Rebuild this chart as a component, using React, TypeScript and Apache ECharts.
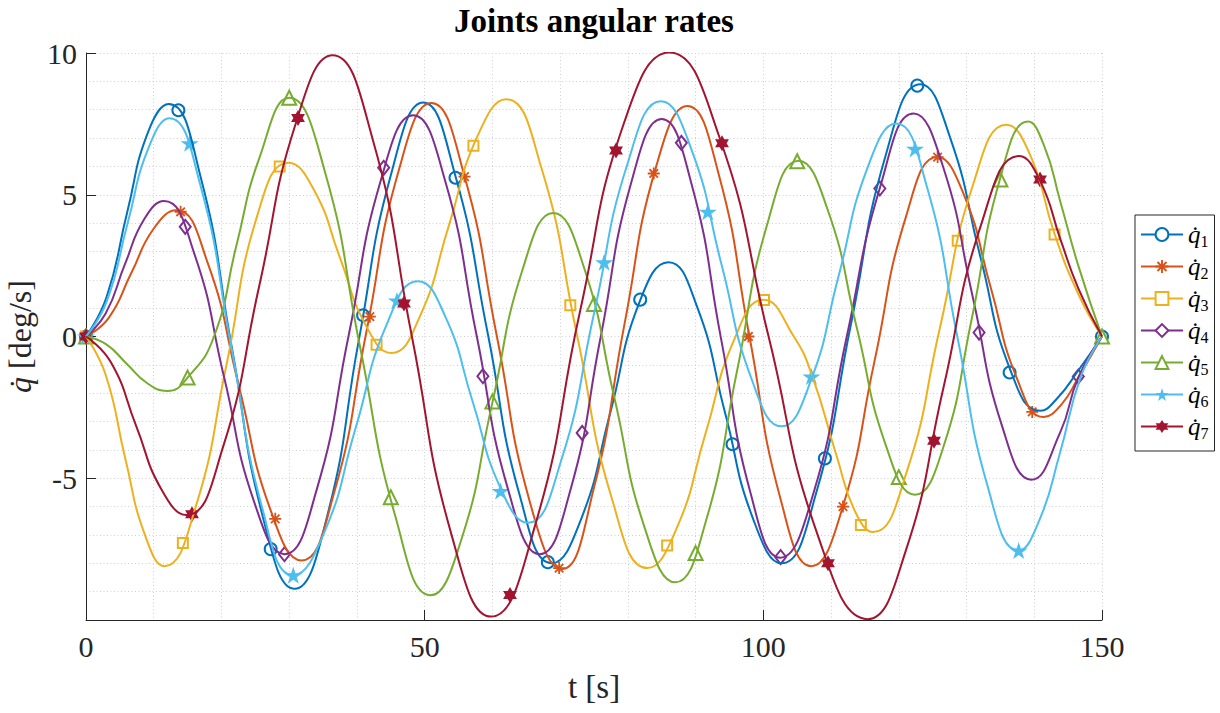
import React, { useEffect, useRef } from "react";
import * as echarts from "echarts";

// ---- data ----
const seriesNames = ["q1", "q2", "q3", "q4", "q5", "q6", "q7"];
const seriesColors = ["#0072BD", "#D95319", "#EDB120", "#7E2F8E", "#77AC30", "#4DBEEE", "#A2142F"];

// curve samples [t, qdot]
const q1Line = [[0, 0], [3.05, 1.4], [6.1, 4.4], [9.15, 7.2], [12.2, 8.2], [16.85, 5.7], [21.5, -0.35], [26.15, -6.4], [30.8, -8.9], [35.55, -6.39], [40.3, -0.1], [45.05, 5.73], [49.8, 8.25], [54.55, 5.65], [59.3, 0.125], [64.05, -5.62], [68.8, -8.0], [73.1, -6.44], [77.4, -2.69], [81.7, 1.2], [86.0, 2.62], [90.2, 1.06], [94.35, -2.69], [98.5, -6.44], [102.7, -8.0], [107.8, -5.52], [112.95, 0.45], [118.1, 6.42], [123.2, 8.9], [127.6, 7.0], [132.05, 2.8], [136.5, -1.2], [140.9, -2.62], [143.5, -2.15], [146.5, -1.2], [150, 0]];
const q2Line = [[0, 0], [3.33, 0.65], [6.65, 2.22], [9.98, 3.8], [13.3, 4.45], [17.9, 2.64], [22.55, -1.725], [27.2, -6.09], [31.8, -7.9], [36.6, -5.54], [41.4, 0.17], [46.2, 5.88], [51.0, 8.24], [55.83, 5.7], [60.65, 0.02], [65.48, -5.79], [70.3, -8.2], [74.93, -5.4], [79.55, 0.5], [84.18, 6.0], [88.8, 8.13], [93.38, 5.75], [97.95, 0.0], [102.53, -5.72], [107.1, -8.1], [111.75, -5.99], [116.4, -0.885], [121.05, 4.22], [125.7, 6.33], [129.63, 4.99], [133.55, 1.745], [137.48, -1.5], [141.4, -2.84], [144.0, -2.4], [146.5, -1.45], [150, 0]];
const q3Line = [[0, 0], [2.9, -1.35], [5.8, -4.3], [8.7, -7.0], [11.6, -8.1], [16.18, -6.02], [20.75, -0.985], [25.33, 4.3], [29.9, 6.13], [33.7, 5.15], [37.5, 2.775], [41.3, 0.4], [45.1, -0.58], [49.33, 0.73], [53.55, 3.895], [57.78, 7.06], [62.0, 8.37], [67.23, 5.95], [72.45, 0.1], [77.68, -5.75], [82.9, -8.17], [87.18, -6.78], [91.45, -3.435], [95.73, -0.09], [100.0, 1.3], [104.5, 0], [107.3, -1.45], [110.8, -4.2], [113.6, -6.2], [116.2, -6.9], [121.13, -4.8], [126.05, 0.285], [130.98, 5.37], [135.9, 7.47], [139.4, 6.4], [142.95, 3.65], [146.5, 1.5], [150, 0]];
const q4Line = [[0, 0], [2.88, 0.8], [5.75, 2.55], [8.63, 4.15], [11.5, 4.78], [15.95, 2.95], [20.4, -1.45], [24.85, -5.85], [29.3, -7.68], [34.05, -5.41], [38.8, 0.06], [43.55, 5.53], [48.3, 7.8], [52.98, 5.53], [57.65, 0.06], [62.33, -5.41], [67.0, -7.68], [71.5, -5.43], [76.0, 0], [80.5, 5.43], [85.0, 7.67], [89.38, 5.4], [93.75, -0.065], [98.13, -5.54], [102.5, -7.8], [107.43, -5.5], [112.35, 0.035], [117.28, 5.3], [122.2, 7.87], [126.55, 5.98], [130.9, 1.41], [135.25, -3.16], [139.6, -5.05], [143.8, -3.4], [146.5, -1.45], [150, 0]];
const q5Line = [[0, 0], [3, -0.28], [6, -0.96], [9, -1.64], [12, -1.92], [15, -1.45], [18.9, 0], [22.2, 3.2], [25.6, 6.3], [30, 8.42], [35.23, 5.85], [40.45, -0.355], [45.68, -6.35], [50.9, -9.13], [55.43, -7.15], [59.95, -2.385], [64.48, 2.38], [69.0, 4.36], [73.5, 2.45], [78.0, -2.155], [82.5, -6.76], [87.0, -8.67], [91.55, -6.49], [96.1, -1.235], [100.65, 4.02], [105.2, 6.2], [109.5, 4.47], [113.8, 0.31], [118.1, -3.85], [122.4, -5.58], [126.58, -3.9], [130.75, 0.6], [134.93, 5.55], [139.1, 7.58], [141.5, 6.7], [143.8, 4.8], [146.5, 2.5], [150, 0]];
const q6Line = [[0, 0], [3.08, 1.25], [6.15, 4.0], [9.23, 6.65], [12.3, 7.7], [16.88, 5.34], [21.45, -0.36], [26.03, -6.06], [30.6, -8.42], [35.2, -6.9], [39.8, -3.235], [44.4, 0.43], [49.0, 1.95], [53.05, 0.7], [57.1, -2.31], [61.15, -5.32], [65.2, -6.57], [70.13, -4.39], [75.05, 0.865], [79.98, 6.12], [84.9, 8.3], [89.35, 6.62], [93.8, 2.565], [98.25, -1.49], [102.7, -3.17], [106.93, -1.61], [111.15, 2.17], [115.38, 5.95], [119.6, 7.51], [124.13, 5.3], [128.65, -0.02], [133.18, -5.34], [137.7, -7.55], [140.8, -6.45], [143.8, -4.1], [146.9, -1.4], [150, 0]];
const q7Line = [[0, 0], [3.7, -0.92], [7.4, -3.15], [11.1, -5.38], [14.8, -6.3], [20.2, -3.92], [25.6, 1.81], [31.0, 7.54], [36.4, 9.92], [42.25, 7.02], [48.1, 0.02], [53.95, -6.98], [59.8, -9.88], [66.38, -6.6], [72.95, 0.9], [79.53, 7.6], [86.1, 10.02], [93.43, 7.09], [100.75, 0.025], [108.08, -7.04], [115.4, -9.97], [121.0, -7.58], [126.6, -1.8], [132.2, 3.98], [137.8, 6.37], [140.85, 5.5], [143.9, 3.4], [146.5, 1.7], [150, 0]];

// marker positions [t, qdot]
const q1Marks = [[0, 0], [13.64, 7.98], [27.27, -7.5], [40.91, 0.75], [54.55, 5.6], [68.18, -7.96], [81.82, 1.3], [95.45, -3.8], [109.09, -4.3], [122.73, 8.85], [136.36, -1.27], [150, 0]];
const q2Marks = [[0, 0], [13.97, 4.4], [27.94, -6.43], [41.91, 0.7], [55.88, 5.64], [69.85, -8.17], [83.82, 5.75], [97.79, 0], [111.76, -6.0], [125.73, 6.33], [139.7, -2.66]];
const q3Marks = [[0, 0], [14.3, -7.28], [28.6, 6.0], [42.9, -0.29], [57.2, 6.73], [71.5, 1.1], [85.8, -7.37], [100.1, 1.29], [114.4, -6.65], [128.7, 3.38], [143.0, 3.6]];
const q4Marks = [[0, 0], [14.65, 3.87], [29.3, -7.68], [43.95, 5.95], [58.6, -1.4], [73.25, -3.4], [87.9, 6.83], [102.55, -7.78], [117.2, 5.22], [131.85, 0.14], [146.5, -1.41]];
const q5Marks = [[0, 0], [15, -1.45], [30, 8.42], [45, -5.67], [60, -2.29], [75, 1.15], [90, -7.64], [105, 6.18], [120, -4.96], [135, 5.54], [150, 0]];
const q6Marks = [[0, 0], [15.3, 6.82], [30.6, -8.42], [45.9, 1.27], [61.2, -5.45], [76.5, 2.62], [91.8, 4.4], [107.1, -1.41], [122.4, 6.62], [137.7, -7.55]];
const q7Marks = [[0, 0], [15.65, -6.27], [31.3, 7.71], [46.95, 1.16], [62.6, -9.12], [78.25, 6.56], [93.9, 6.82], [109.55, -8.0], [125.2, -3.68], [140.85, 5.54]];

const lines = [q1Line, q2Line, q3Line, q4Line, q5Line, q6Line, q7Line];
const marks = [q1Marks, q2Marks, q3Marks, q4Marks, q5Marks, q6Marks, q7Marks];

const xMin = 0, xMax = 150, xStep = 50;
const yMin = -10, yMax = 10, yStep = 5;

const titleText = "Joints angular rates";
const xName = "t [s]";

// ---- symbols ----
const asteriskPath =
  "path://M-10,-1.5L10,-1.5L10,1.5L-10,1.5Z" +
  "M-1.5,-10L1.5,-10L1.5,10L-1.5,10Z" +
  "M-6.01,-8.13L8.13,6.01L6.01,8.13L-8.13,-6.01Z" +
  "M-8.13,6.01L6.01,-8.13L8.13,-6.01L-6.01,8.13Z";
const pentagramPath =
  "path://M0,-10L2.245,-3.09L9.511,-3.09L3.633,1.18L5.878,8.09L0,3.82L-5.878,8.09L-3.633,1.18L-9.511,-3.09L-2.245,-3.09Z";
const hexagramPath = "path://M0,-10L8.66,5L-8.66,5ZM0,10L-8.66,-5L8.66,-5Z";

const symbols = ["emptyCircle", asteriskPath, "emptyRect", "emptyDiamond", "emptyTriangle", pentagramPath, hexagramPath];
const symbolSizes: any[] = [12, 12, 10, [11, 14], 14, 18, 16];

const FONT = "'Liberation Serif', 'DejaVu Serif', serif";

export default function App() {
  const ref = useRef<HTMLDivElement>(null);
  useEffect(() => {
    document.body.style.margin = "0";
    if (!ref.current) return;
    const chart = echarts.init(ref.current, null, { renderer: "svg" });
    const gridColor = "#cfcfcf";
    const axisColor = "#262626";
    const series: any[] = [];
    seriesNames.forEach((name, i) => {
      series.push({
        name,
        type: "line",
        smooth: 0.5,
        showSymbol: false,
        symbol: symbols[i],
        symbolSize: symbolSizes[i],
        color: seriesColors[i],
        lineStyle: { width: 2, color: seriesColors[i] },
        itemStyle: { color: seriesColors[i], borderWidth: 1.6 },
        emphasis: { disabled: true },
        silent: true,
        data: lines[i],
      });
      series.push({
        name: name + " markers",
        type: "scatter",
        symbol: symbols[i],
        symbolSize: symbolSizes[i],
        symbolKeepAspect: true,
        color: seriesColors[i],
        itemStyle: { color: seriesColors[i], borderWidth: 1.7, opacity: 1 },
        emphasis: { disabled: true },
        silent: true,
        data: marks[i],
      });
    });
    chart.setOption({
      animation: false,
      backgroundColor: "#ffffff",
      grid: { left: 86, right: 118, top: 53, bottom: 93, containLabel: false, outerBoundsMode: "none" },
      graphic: [
        {
          type: "text",
          x: 594,
          y: 4,
          style: {
            text: titleText,
            font: `bold 33px ${FONT}`,
            fill: "#000",
            textAlign: "center",
          },
        },
      ],
      legend: {
        orient: "vertical",
        left: 1135,
        top: 215,
        itemWidth: 42,
        itemHeight: 16,
        itemGap: 5,
        padding: [7, 6, 10, 5],
        borderColor: axisColor,
        borderWidth: 1,
        backgroundColor: "#fff",
        selectedMode: false,
        data: seriesNames,
        formatter: (name: string) => `{q|q\u0307}{s|${name.slice(1)}}`,
        textStyle: {
          color: "#000",
          rich: {
            q: { fontFamily: FONT, fontStyle: "italic", fontSize: 25, lineHeight: 29, color: "#000" },
            s: { fontFamily: FONT, fontSize: 16, lineHeight: 29, verticalAlign: "bottom", padding: [8, 0, 0, 0], color: "#000" },
          },
        },
      },
      xAxis: {
        type: "value",
        min: xMin,
        max: xMax,
        interval: xStep,
        name: xName,
        nameLocation: "middle",
        nameGap: 50,
        nameTextStyle: { fontFamily: FONT, fontSize: 33, color: axisColor },
        axisLine: { show: true, onZero: false, lineStyle: { color: axisColor, width: 1 } },
        axisTick: { show: true, inside: true, length: 10, lineStyle: { color: axisColor } },
        axisLabel: { margin: 11, fontFamily: FONT, fontSize: 30, color: axisColor },
        splitLine: { show: true, lineStyle: { type: [1, 2.5], color: gridColor, width: 1 } },
        minorTick: { show: false, splitNumber: 5 },
        minorSplitLine: { show: true, lineStyle: { type: [1, 2.5], color: gridColor, width: 1 } },
      },
      yAxis: {
        type: "value",
        min: yMin,
        max: yMax,
        interval: yStep,
        name: "{i|q\u0307} [deg/s]",
        nameLocation: "middle",
        nameGap: 50,
        nameRotate: 90,
        nameTextStyle: {
          fontFamily: FONT,
          fontSize: 32,
          lineHeight: 32,
          color: axisColor,
          rich: { i: { fontFamily: FONT, fontSize: 32, lineHeight: 32, fontStyle: "italic", color: axisColor } },
        },
        axisLine: { show: true, onZero: false, lineStyle: { color: axisColor, width: 1 } },
        axisTick: { show: true, inside: true, length: 10, lineStyle: { color: axisColor } },
        axisLabel: {
          margin: 9,
          fontFamily: FONT,
          fontSize: 30,
          color: axisColor,
          formatter: (v: number) => (v === yMin ? "" : String(v)),
        },
        splitLine: { show: true, lineStyle: { type: [1, 2.5], color: gridColor, width: 1 } },
        minorTick: { show: false, splitNumber: 5 },
        minorSplitLine: { show: true, lineStyle: { type: [1, 2.5], color: gridColor, width: 1 } },
      },
      series,
    });
    return () => chart.dispose();
  }, []);
  return <div ref={ref} style={{ width: 1220, height: 713 }} />;
}
